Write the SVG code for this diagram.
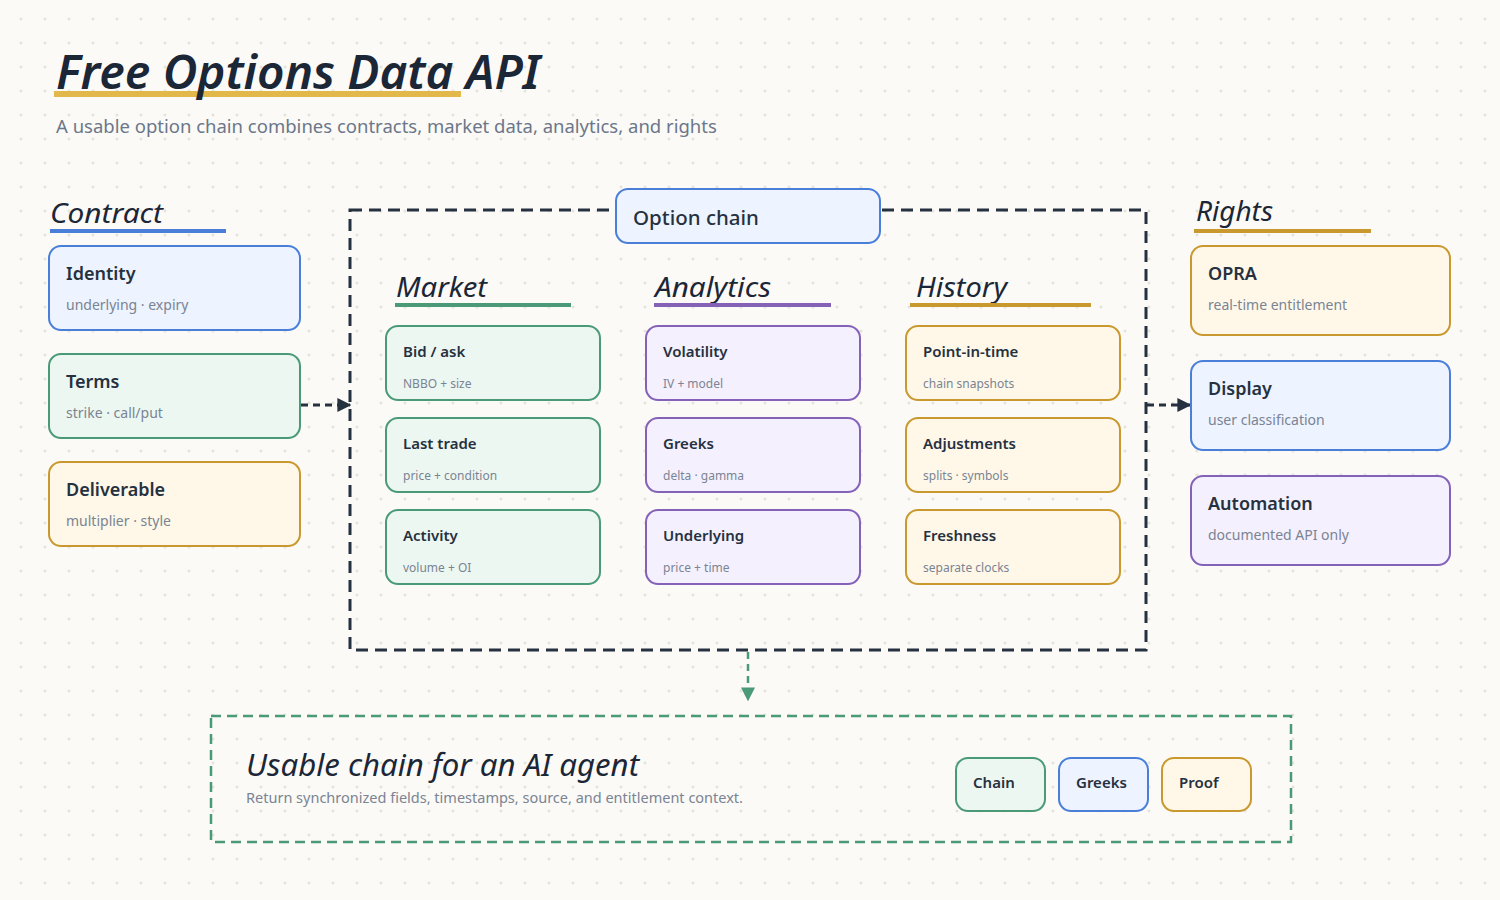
<svg xmlns="http://www.w3.org/2000/svg" width="1500" height="900" viewBox="0 0 1500 900">
<defs>
<pattern id="grid" x="0" y="0" width="24" height="24" patternUnits="userSpaceOnUse">
<path d="M21 17.5v3M19.5 19h3" stroke="#dcdad3" stroke-width="1"/>
</pattern>
<marker id="arrDark" viewBox="0 0 10 10" refX="9" refY="5" markerWidth="14" markerHeight="14" markerUnits="userSpaceOnUse" orient="auto">
<path d="M0 0L10 5L0 10z" fill="#253040"/>
</marker>
<marker id="arrGreen" viewBox="0 0 10 10" refX="9" refY="5" markerWidth="14" markerHeight="14" markerUnits="userSpaceOnUse" orient="auto">
<path d="M0 0L10 5L0 10z" fill="#4a9a78"/>
</marker>
<style>
.hand{font-family:"Noto Sans","DejaVu Sans",sans-serif;font-style:italic;fill:#1b2637}
.t{font-family:"Noto Sans","Open Sans",sans-serif;font-weight:600;fill:#263140}
.s{font-family:"Noto Sans","Open Sans",sans-serif;fill:#7a8494}
.box{stroke-width:2}
.blue{fill:#edf3ff;stroke:#4a7fd9}
.green{fill:#edf7f1;stroke:#4a9a78}
.purple{fill:#f5f0fd;stroke:#8462b8}
.yellow{fill:#fff8e8;stroke:#c9992f}
.big{font-size:18px}
.bigs{font-size:14px}
.sm{font-size:15px}
.sms{font-size:12px}
</style>
</defs>
<rect width="1500" height="900" fill="#fbfaf6"/>
<rect width="1500" height="900" fill="url(#grid)"/>

<g id="title">
<rect x="54" y="91" width="407" height="6" fill="#e2b84a"/>
<text x="56" y="89" class="hand" font-size="46" font-weight="600" textLength="484" lengthAdjust="spacingAndGlyphs">Free Options Data API</text>
<text x="56" y="133" font-family="Noto Sans, Open Sans, sans-serif" font-size="18.5" fill="#6b778a">A usable option chain combines contracts, market data, analytics, and rights</text>
</g>

<g id="connectors">
<rect x="350" y="210" width="796" height="440" fill="none" stroke="#253040" stroke-width="3" stroke-dasharray="12 7"/>
<line x1="301" y1="405" x2="350" y2="405" stroke="#253040" stroke-width="3" stroke-dasharray="7 5" marker-end="url(#arrDark)"/>
<line x1="1147" y1="405" x2="1190" y2="405" stroke="#253040" stroke-width="3" stroke-dasharray="7 5" marker-end="url(#arrDark)"/>
<line x1="748" y1="652" x2="748" y2="700" stroke="#4a9a78" stroke-width="2.5" stroke-dasharray="7 5" marker-end="url(#arrGreen)"/>
</g>

<g id="contract-heading">
<text x="50" y="223" class="hand" font-size="28" textLength="113" lengthAdjust="spacingAndGlyphs">Contract</text>
<rect x="50" y="229" width="176" height="4" fill="#4a7fd9"/>
</g>
<g id="identity">
<rect x="49" y="246" width="251" height="84" rx="12" class="box blue"/>
<text x="66" y="280" class="t big">Identity</text>
<text x="66" y="310" class="s bigs">underlying · expiry</text>
</g>
<g id="terms">
<rect x="49" y="354" width="251" height="84" rx="12" class="box green"/>
<text x="66" y="388" class="t big">Terms</text>
<text x="66" y="418" class="s bigs">strike · call/put</text>
</g>
<g id="deliverable">
<rect x="49" y="462" width="251" height="84" rx="12" class="box yellow"/>
<text x="66" y="496" class="t big">Deliverable</text>
<text x="66" y="526" class="s bigs">multiplier · style</text>
</g>

<g id="option-chain">
<rect x="616" y="189" width="264" height="54" rx="12" class="box blue"/>
<text x="633" y="225" font-family="Noto Sans, Open Sans, sans-serif" font-size="20.5" font-weight="500" fill="#263140">Option chain</text>
</g>

<g id="market-heading">
<text x="396" y="297" class="hand" font-size="28" textLength="91" lengthAdjust="spacingAndGlyphs">Market</text>
<rect x="395" y="303" width="176" height="4" fill="#4a9a78"/>
</g>
<g id="bid-ask">
<rect x="386" y="326" width="214" height="74" rx="12" class="box green"/>
<text x="403" y="357" class="t sm">Bid / ask</text>
<text x="403" y="388" class="s sms">NBBO + size</text>
</g>
<g id="last-trade">
<rect x="386" y="418" width="214" height="74" rx="12" class="box green"/>
<text x="403" y="449" class="t sm">Last trade</text>
<text x="403" y="480" class="s sms">price + condition</text>
</g>
<g id="activity">
<rect x="386" y="510" width="214" height="74" rx="12" class="box green"/>
<text x="403" y="541" class="t sm">Activity</text>
<text x="403" y="572" class="s sms">volume + OI</text>
</g>

<g id="analytics-heading">
<text x="655" y="297" class="hand" font-size="28" textLength="116" lengthAdjust="spacingAndGlyphs">Analytics</text>
<rect x="654" y="303" width="177" height="4" fill="#8462b8"/>
</g>
<g id="volatility">
<rect x="646" y="326" width="214" height="74" rx="12" class="box purple"/>
<text x="663" y="357" class="t sm">Volatility</text>
<text x="663" y="388" class="s sms">IV + model</text>
</g>
<g id="greeks">
<rect x="646" y="418" width="214" height="74" rx="12" class="box purple"/>
<text x="663" y="449" class="t sm">Greeks</text>
<text x="663" y="480" class="s sms">delta · gamma</text>
</g>
<g id="underlying">
<rect x="646" y="510" width="214" height="74" rx="12" class="box purple"/>
<text x="663" y="541" class="t sm">Underlying</text>
<text x="663" y="572" class="s sms">price + time</text>
</g>

<g id="history-heading">
<text x="916" y="297" class="hand" font-size="28" textLength="91" lengthAdjust="spacingAndGlyphs">History</text>
<rect x="910" y="303" width="181" height="4" fill="#c9992f"/>
</g>
<g id="point-in-time">
<rect x="906" y="326" width="214" height="74" rx="12" class="box yellow"/>
<text x="923" y="357" class="t sm">Point-in-time</text>
<text x="923" y="388" class="s sms">chain snapshots</text>
</g>
<g id="adjustments">
<rect x="906" y="418" width="214" height="74" rx="12" class="box yellow"/>
<text x="923" y="449" class="t sm">Adjustments</text>
<text x="923" y="480" class="s sms">splits · symbols</text>
</g>
<g id="freshness">
<rect x="906" y="510" width="214" height="74" rx="12" class="box yellow"/>
<text x="923" y="541" class="t sm">Freshness</text>
<text x="923" y="572" class="s sms">separate clocks</text>
</g>

<g id="rights-heading">
<text x="1196" y="221" class="hand" font-size="28" textLength="77" lengthAdjust="spacingAndGlyphs">Rights</text>
<rect x="1194" y="229" width="177" height="4" fill="#c9992f"/>
</g>
<g id="opra">
<rect x="1191" y="246" width="259" height="89" rx="12" class="box yellow"/>
<text x="1208" y="280" class="t big">OPRA</text>
<text x="1208" y="310" class="s bigs">real-time entitlement</text>
</g>
<g id="display">
<rect x="1191" y="361" width="259" height="89" rx="12" class="box blue"/>
<text x="1208" y="395" class="t big">Display</text>
<text x="1208" y="425" class="s bigs">user classification</text>
</g>
<g id="automation">
<rect x="1191" y="476" width="259" height="89" rx="12" class="box purple"/>
<text x="1208" y="510" class="t big">Automation</text>
<text x="1208" y="540" class="s bigs">documented API only</text>
</g>

<g id="usable-chain">
<rect x="211" y="716" width="1080" height="126" fill="none" stroke="#4a9a78" stroke-width="2.5" stroke-dasharray="10 6"/>
<text x="246" y="776" class="hand" font-size="30" textLength="393" lengthAdjust="spacingAndGlyphs">Usable chain for an AI agent</text>
<text x="246" y="803" class="s" font-size="14.5">Return synchronized fields, timestamps, source, and entitlement context.</text>
</g>
<g id="chip-chain">
<rect x="956" y="758" width="89" height="53" rx="12" class="box green"/>
<text x="973" y="788" class="t" font-size="15" font-weight="500">Chain</text>
</g>
<g id="chip-greeks">
<rect x="1059" y="758" width="89" height="53" rx="12" class="box blue"/>
<text x="1076" y="788" class="t" font-size="15" font-weight="500">Greeks</text>
</g>
<g id="chip-proof">
<rect x="1162" y="758" width="89" height="53" rx="12" class="box yellow"/>
<text x="1179" y="788" class="t" font-size="15" font-weight="500">Proof</text>
</g>
</svg>
